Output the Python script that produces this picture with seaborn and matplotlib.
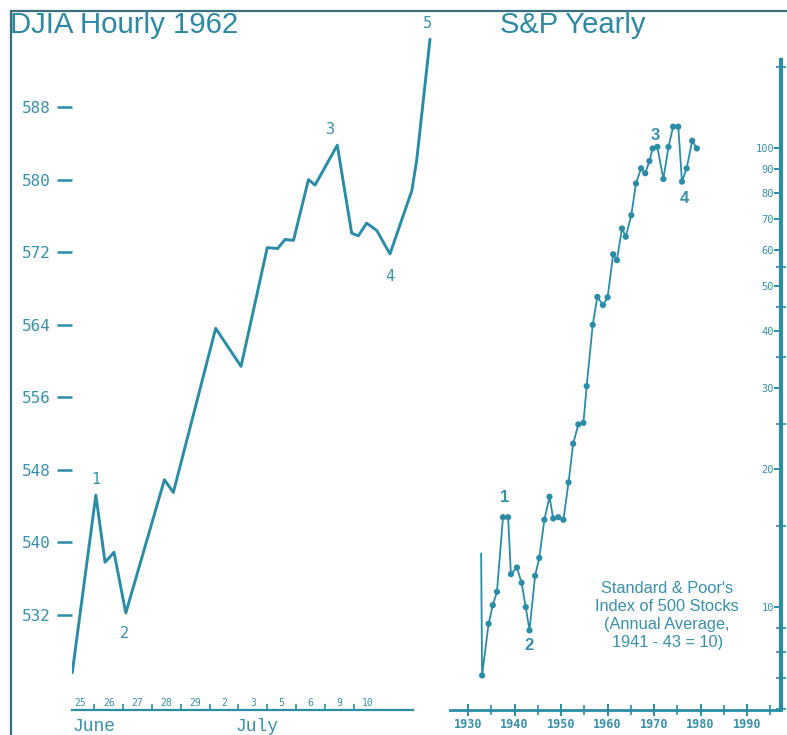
import matplotlib
matplotlib.use("Agg")
import matplotlib.pyplot as plt
from matplotlib.lines import Line2D
from matplotlib.ticker import FixedLocator, NullFormatter, FixedFormatter
import seaborn as sns
import pandas as pd

# ---------------- data ----------------
# DJIA hourly, June 25 - July 10 1962 (x = trading-day position)
djia_day_pos = [-0.27, 0.55, 0.87, 1.18, 1.59, 2.93, 3.24, 4.71, 5.59, 6.50, 6.86, 7.12,
                7.41, 7.93, 8.16, 8.93, 9.43, 9.66, 9.95, 10.30, 10.76, 11.52, 11.69, 12.15]
djia_values = [525.6, 545.2, 537.8, 538.9, 532.2, 546.9, 545.5, 563.6, 559.4, 572.5, 572.4, 573.4,
               573.3, 580.0, 579.4, 583.8, 574.1, 573.8, 575.2, 574.4, 571.8, 578.8, 582.2, 595.5]
day_ticks = [0, 1, 2, 3, 4, 5, 6, 7, 8, 9, 10]
day_labels = ["25", "26", "27", "28", "29", "2", "3", "5", "6", "9", "10"]
djia_yticks = [532, 540, 548, 556, 564, 572, 580, 588]
djia_wave_idx = [1, 4, 15, 20, 23]
djia_wave_labels = ["1", "2", "3", "4", "5"]

# S&P 500 annual average (1941-43 = 10)
sp_years = [1932.8, 1933.0, 1934.4, 1935.3, 1936.2, 1937.5, 1938.6, 1939.2, 1940.5, 1941.5,
            1942.4, 1943.2, 1944.4, 1945.3, 1946.4, 1947.5, 1948.3, 1949.4, 1950.5, 1951.6,
            1952.6, 1953.7, 1954.8, 1955.5, 1956.8, 1957.8, 1959.0, 1960.0, 1961.2, 1962.0,
            1963.1, 1963.9, 1965.1, 1966.1, 1967.2, 1968.1, 1969.0, 1969.7, 1970.7, 1972.0,
            1973.1, 1974.1, 1975.2, 1976.0, 1977.0, 1978.2, 1979.2]
sp_values = [13.1, 7.1, 9.2, 10.1, 10.8, 15.7, 15.7, 11.8, 12.2, 11.3,
             10.0, 8.9, 11.7, 12.8, 15.5, 17.4, 15.6, 15.7, 15.5, 18.7,
             22.7, 25.0, 25.2, 30.3, 41.2, 47.4, 45.5, 47.3, 58.7, 57.0,
             66.8, 64.1, 71.4, 83.7, 90.3, 88.1, 93.7, 99.8, 100.6, 85.6,
             100.6, 111.3, 111.3, 84.5, 90.3, 103.7, 99.8]
sp_xticks = [1930, 1940, 1950, 1960, 1970, 1980, 1990]
sp_xminor = [1935, 1945, 1955, 1965, 1975, 1985, 1995]
sp_yticks = [10, 20, 30, 40, 50, 60, 70, 80, 90, 100]
sp_yminor = [6, 7, 8, 9, 15, 25, 35, 45, 55, 150]
sp_wave_idx = [5, 11, 37, 43]
sp_wave_labels = ["1", "2", "3", "4"]

djia_df = pd.DataFrame({"day": djia_day_pos, "djia": djia_values})
sp_df = pd.DataFrame({"year": sp_years, "sp": sp_values})

# ---------------- style ----------------
sns.set_style("white")
plt.rcParams["font.family"] = ["Liberation Sans", "DejaVu Sans"]
LINE = "#2b8ca6"
TEXT = "#3a90a8"
FRAME = "#3b6f7e"
MONO = ["DejaVu Sans Mono"]

W, H = 787, 735
fig = plt.figure(figsize=(W / 100, H / 100), dpi=100)

# ---------------- left: DJIA hourly ----------------
ax1 = fig.add_axes([72 / W, 1 - 710 / H, 373 / W, 699 / H])
sns.lineplot(data=djia_df, x="day", y="djia", ax=ax1, color=LINE, lw=2.1,
             estimator=None, sort=False)
for s in ["left", "top", "right"]:
    ax1.spines[s].set_visible(False)
ax1.spines["bottom"].set_color(LINE)
ax1.spines["bottom"].set_linewidth(1.6)
ax1.set_yticks(djia_yticks)
ax1.set_yticklabels([str(v) for v in djia_yticks], family=MONO, fontsize=11.5, color=TEXT)
ax1.tick_params(axis="y", left=True, direction="out", length=11, width=1.8, color=LINE, pad=4)
ax1.set_xticks(day_ticks)
ax1.set_xticklabels(day_labels, family=MONO, fontsize=7, color=TEXT)
ax1.set_xticks([t + 0.5 for t in day_ticks[:-1]], minor=True)
ax1.tick_params(axis="x", which="major", bottom=True, length=0, pad=-9)
ax1.tick_params(axis="x", which="minor", bottom=True, direction="in", length=4, width=1.2,
                color=LINE)
ax1.set_xlim(-0.278, 12.67)
ax1.set_ylim(521.5, 598.6)
ax1.spines["bottom"].set_bounds(-0.278, 11.56)
ax1.set_xlabel("")
ax1.set_ylabel("")
ax1.grid(False)
ax1.text(day_ticks[0] - 0.25, -0.012, "June", transform=ax1.get_xaxis_transform(),
         ha="left", va="top", family=["Liberation Mono"], fontsize=13, color=TEXT, clip_on=False)
ax1.text(day_ticks[5] + 0.38, -0.012, "July", transform=ax1.get_xaxis_transform(),
         ha="left", va="top", family=["Liberation Mono"], fontsize=13, color=TEXT, clip_on=False)
djia_offsets = [(0, 11), (-1, -14.5), (-4.5, 11), (0, -16.5), (-1.5, 11.5)]
for i, lab, off in zip(djia_wave_idx, djia_wave_labels, djia_offsets):
    ax1.annotate(lab, xy=(djia_day_pos[i], djia_values[i]), xytext=off,
                 textcoords="offset points", ha="center", va="center",
                 family=MONO, fontsize=11, color=TEXT, annotation_clip=False)

# ---------------- right: S&P yearly ----------------
ax2 = fig.add_axes([450 / W, 1 - 710 / H, 331 / W, 650 / H])
sns.lineplot(data=sp_df, x="year", y="sp", ax=ax2, color=LINE, lw=1.3,
             estimator=None, sort=False)
sns.scatterplot(data=sp_df.iloc[1:], x="year", y="sp", ax=ax2, color=LINE, s=20,
                edgecolor="none", zorder=3)
ax2.set_yscale("log")
for s in ["left", "top"]:
    ax2.spines[s].set_visible(False)
ax2.spines["bottom"].set_color(LINE)
ax2.spines["bottom"].set_linewidth(2.0)
ax2.spines["right"].set_color(LINE)
ax2.spines["right"].set_linewidth(3.0)
ax2.xaxis.set_major_locator(FixedLocator(sp_xticks))
ax2.xaxis.set_minor_locator(FixedLocator(sp_xminor))
ax2.set_xticklabels([str(v) for v in sp_xticks], family=MONO, fontsize=8.5,
                    fontweight="bold", color=TEXT)
ax2.tick_params(axis="x", which="major", bottom=True, direction="inout", length=9, width=1.4,
                color=LINE, pad=1)
ax2.tick_params(axis="x", which="minor", bottom=True, direction="inout", length=7, width=1.2,
                color=LINE)
ax2.yaxis.tick_right()
ax2.yaxis.set_major_locator(FixedLocator(sp_yticks))
ax2.yaxis.set_major_formatter(FixedFormatter([str(v) for v in sp_yticks]))
ax2.yaxis.set_minor_locator(FixedLocator(sp_yminor))
ax2.yaxis.set_minor_formatter(NullFormatter())
ax2.tick_params(axis="y", which="major", right=True, direction="in", length=5, width=1.4,
                color=LINE, pad=-5, labelsize=7.5, labelcolor=TEXT)
ax2.tick_params(axis="y", which="minor", right=True, direction="inout", length=7, width=1.2,
                color=LINE)
for lbl in ax2.get_yticklabels():
    lbl.set_horizontalalignment("right")
    lbl.set_family(MONO)
ax2.set_xlim(1926.1, 1997.3)
ax2.set_ylim(5.97, 155.5)
ax2.set_xlabel("")
ax2.set_ylabel("")
ax2.grid(False)
sp_offsets = [(1.5, 14), (0, -11), (1.5, 9.5), (1.5, -12.5)]
for i, lab, off in zip(sp_wave_idx, sp_wave_labels, sp_offsets):
    ax2.annotate(lab, xy=(sp_years[i], sp_values[i]), xytext=off,
                 textcoords="offset points", ha="center", va="center",
                 fontsize=12, fontweight="bold", color=TEXT, annotation_clip=False)
ax2.text(0.656, 0.145, "Standard & Poor's\nIndex of 500 Stocks\n(Annual Average,\n1941 - 43 = 10)",
         transform=ax2.transAxes, ha="center", va="center", fontsize=11.8,
         color=TEXT, linespacing=1.25)

# ---------------- titles and frame ----------------
fig.text(10 / W, 1 - 25 / H, "DJIA Hourly 1962", ha="left", va="center",
         fontsize=21.2, color="#2f88a2")
fig.text(500 / W, 1 - 25 / H, "S&P Yearly", ha="left", va="center",
         fontsize=21, color="#2f88a2")
fig.add_artist(Line2D([11 / W, 11 / W], [0, 1 - 11 / H], color=FRAME, lw=1.6))
fig.add_artist(Line2D([11 / W, 1], [1 - 11 / H, 1 - 11 / H], color=FRAME, lw=1.6))

fig.savefig("out.png", dpi=100)
